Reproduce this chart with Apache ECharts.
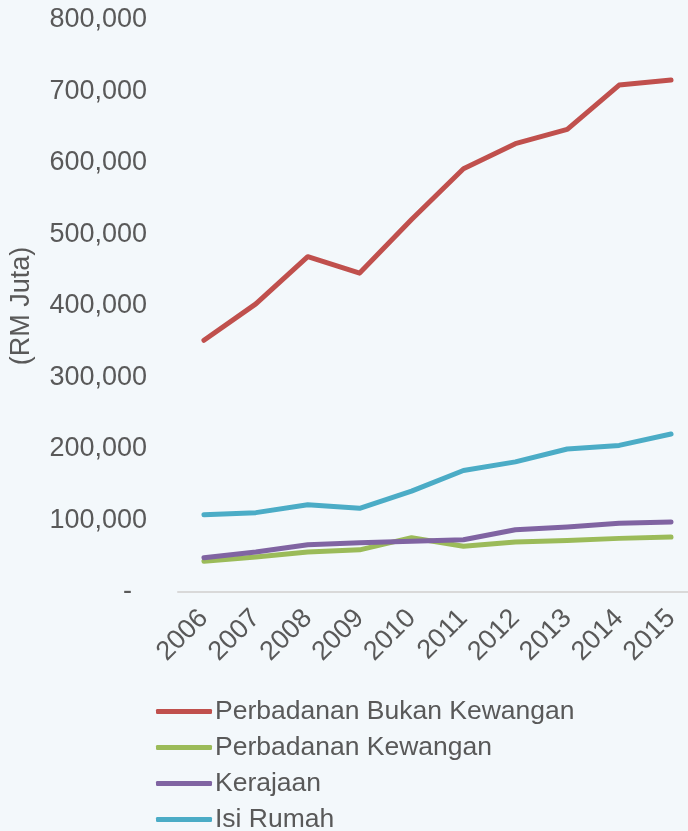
<!DOCTYPE html>
<html>
<head>
<meta charset="utf-8"/>
<title>RM Juta</title>
<script src="https://cdn.jsdelivr.net/npm/echarts@6/dist/echarts.min.js"></script>
<style>
html,body{margin:0;padding:0;background:#f3f8fb;}
#main{width:688px;height:831px;}
</style>
</head>
<body>
<div id="main"></div>
<script type="text/javascript">
var years = ['2006','2007','2008','2009','2010','2011','2012','2013','2014','2015'];
var seriesNames = ['Perbadanan Bukan Kewangan','Perbadanan Kewangan','Kerajaan','Isi Rumah'];
var bukanKewangan = [352000,403000,469000,446000,521000,592000,627000,647000,709000,716000];
var kewangan = [43000,49000,56000,59000,76000,64000,70000,72000,75000,77000];
var kerajaan = [48000,56000,66000,69000,71000,73000,87000,91000,96000,98000];
var isiRumah = [108000,111000,122000,117000,141000,170000,182000,200000,205000,221000];
var colors = ['#c0504d','#9bbb59','#8064a2','#4bacc6'];

var font = 'Liberation Sans, Arial, sans-serif';
var myChart = echarts.init(document.getElementById('main'));

function lineSeries(name, data, color){
	return {
		name: name,
		type: 'line',
		data: data,
		symbol: 'none',
		smooth: false,
		color: color,
		lineStyle: {width: 5, color: color, cap: 'round', join: 'round'}
	};
}

var option = {
	backgroundColor: '#f3f8fb',
	animation: false,
	textStyle: {fontFamily: font},
	grid: {
		left: 178,
		top: 20,
		width: 519,
		height: 572,
		outerBoundsMode: 'none'
	},
	legend: {
		orient: 'vertical',
		left: 156,
		top: 698,
		height: 160,
		padding: 0,
		itemWidth: 56,
		itemHeight: 5,
		itemGap: 9,
		icon: 'roundRect',
		textStyle: {fontSize: 26.5, color: '#595959', fontFamily: font, padding: [0,0,0,-2]},
		data: seriesNames
	},
	xAxis: {
		type: 'category',
		data: years,
		boundaryGap: true,
		axisLine: {lineStyle: {color: '#d9d9d9', width: 2}},
		axisTick: {show: false},
		axisLabel: {
			rotate: 45,
			margin: 22,
			fontSize: 27,
			color: '#595959',
			fontFamily: font,
			interval: 0
		}
	},
	yAxis: {
		type: 'value',
		min: 0,
		max: 800000,
		interval: 100000,
		name: '(RM Juta)',
		nameLocation: 'middle',
		nameRotate: 90,
		nameGap: 143,
		nameTextStyle: {fontSize: 27, color: '#595959', fontFamily: font},
		axisLine: {show: false},
		axisTick: {show: false},
		splitLine: {show: false},
		axisLabel: {
			margin: 31,
			fontSize: 27,
			color: '#595959',
			fontFamily: font,
			formatter: function(v){
				if(v === 0) return '-  ';
				return v.toLocaleString('en-US');
			}
		}
	},
	series: [
		lineSeries(seriesNames[0], bukanKewangan, colors[0]),
		lineSeries(seriesNames[1], kewangan, colors[1]),
		lineSeries(seriesNames[2], kerajaan, colors[2]),
		lineSeries(seriesNames[3], isiRumah, colors[3])
	]
};

myChart.setOption(option);
</script>
</body>
</html>
